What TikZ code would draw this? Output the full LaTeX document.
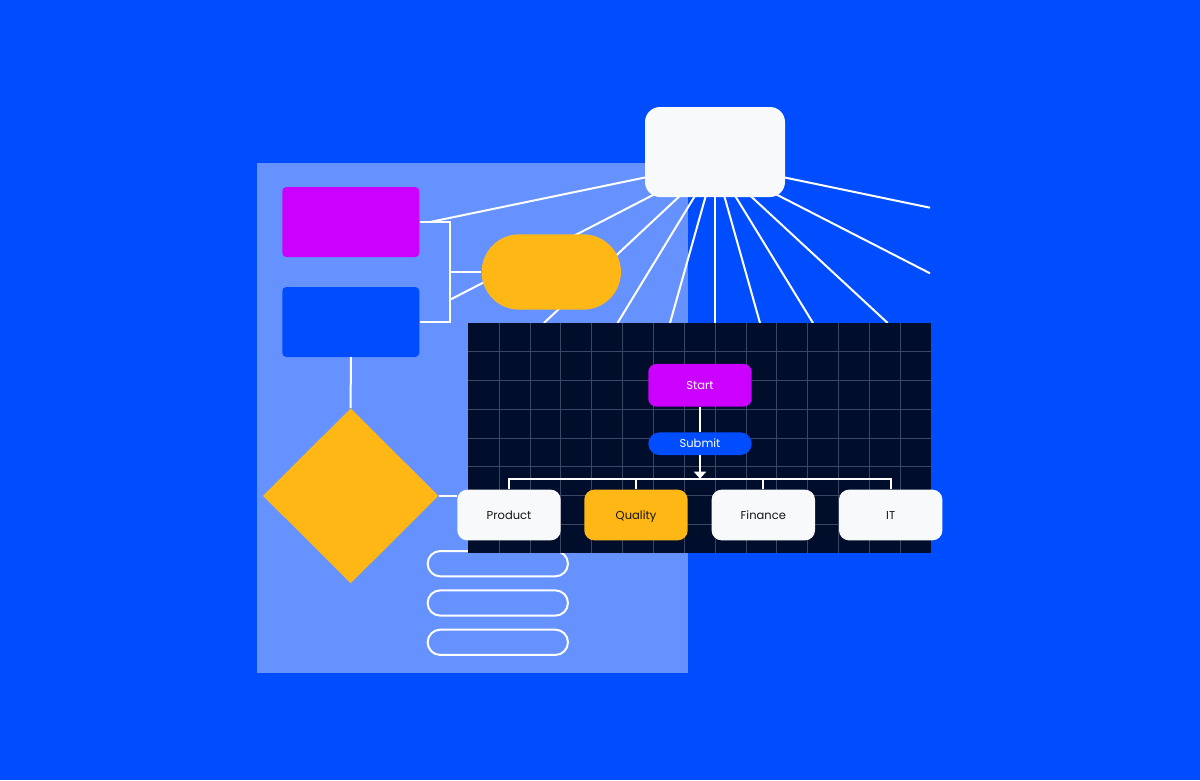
\documentclass[tikz,border=0pt]{standalone}
\usepackage{fontspec}
\setmainfont{Poppins}
\usetikzlibrary{arrows.meta,shapes.geometric}
\definecolor{bg}{HTML}{004DFF}
\definecolor{panel}{HTML}{6692FF}
\definecolor{violet}{HTML}{CC00FF}
\definecolor{amber}{HTML}{FFB716}
\definecolor{paper}{HTML}{F7F9FB}
\definecolor{navy}{HTML}{000D2B}
\definecolor{gridline}{HTML}{3A4662}
\definecolor{ink}{HTML}{141414}
\tikzset{
  wire/.style={draw=white, line width=2pt},
  ray/.style={draw=white, line width=2pt},
  label/.style={font=\fontsize{11.5}{14}\selectfont, text height=10pt, text depth=1.6pt},
  blockbox/.style={rectangle, inner sep=0pt, minimum width=137pt, minimum height=70pt, rounded corners=4pt},
  unitbox/.style={rectangle, inner sep=0pt, minimum width=103.4pt, minimum height=50.7pt, rounded corners=10pt, label, text=ink},
  outpill/.style={rectangle, draw=white, line width=2pt, inner sep=0pt, minimum width=140.3pt, minimum height=25.3pt, rounded corners=12.6pt},
}
\begin{document}
\begin{tikzpicture}[x=1pt,y=-1pt]
\fill[bg] (0,0) rectangle (1200,780);
\useasboundingbox (0,0) rectangle (1200,780);
\fill[panel] (257.3,162.7) rectangle (687.7,673.3);

% hub and ray ends
\coordinate (hub) at (715,163);
\coordinate (r1) at (430,222);
\coordinate (r2) at (450.5,299.5);
\coordinate (r3) at (543.9,323);
\coordinate (r4) at (617.5,323);
\coordinate (r5) at (670,323);
\coordinate (r6) at (715,323);
\coordinate (r7) at (760,323);
\coordinate (r8) at (813,323);
\coordinate (r9) at (887.7,323);
\coordinate (r10) at (930,273.3);
\coordinate (r11) at (930,207.7);
\foreach \r in {r1,r2,r3,r4,r5,r6,r7,r8,r9,r10,r11}
  \draw[ray] (hub) -- (\r);

% top white box
\node[rectangle, fill=paper, inner sep=0pt, minimum width=140pt, minimum height=90pt, rounded corners=15pt] (top) at (715,152) {};

% left blocks
\node[blockbox, fill=violet] (pbox) at (350.8,222) {};
\node[blockbox, fill=bg] (bbox) at (350.8,322) {};
\coordinate (bkt) at (450,222);
\coordinate (bkb) at (450,322);
\draw[wire] (pbox.east) -- (bkt) -- (bkb) -- (bbox.east);
\node[rectangle, fill=amber, inner sep=0pt, minimum width=139.3pt, minimum height=75.3pt, rounded corners=37.6pt] (pill) at (551.3,272) {};
\draw[wire] (pill.west) -- (pill.west -| bkt);

\node[diamond, fill=amber, inner sep=0pt, minimum width=175.6pt, minimum height=175pt] (dia) at (350.7,495.8) {};
\draw[wire] (bbox.south) -- (dia.north);

% outline pills
\node[outpill] (o1) at (497.8,563.7) {};
\node[outpill] (o2) at (497.8,603) {};
\node[outpill] (o3) at (497.8,642.3) {};

% dark grid
\node[rectangle, fill=navy, inner sep=0pt, minimum width=462.7pt, minimum height=230.6pt] (grid) at (699.65,438) {};
\foreach \i in {1,...,14}
  \draw[gridline, line width=1pt] (468.3+\i*30.86,322.7) -- (468.3+\i*30.86,553.3);
\foreach \j in {1,...,7}
  \draw[gridline, line width=1pt] (468.3,322.7+\j*28.83) -- (931,322.7+\j*28.83);

% flow inside grid
\node[rectangle, fill=violet, inner sep=0pt, minimum width=103.4pt, minimum height=42.7pt, rounded corners=8pt, text=white, label] (start) at (700,385.3) {Start};
\node[rectangle, fill=bg, inner sep=0pt, minimum width=103.4pt, minimum height=22.7pt, rounded corners=11.3pt, text=white, label] (submit) at (700,443.7) {Submit};
\draw[wire] (start.south) -- (submit.north);

\node[unitbox, fill=paper] (product) at (509,515) {Product};
\node[unitbox, fill=amber] (quality) at (636,515) {Quality};
\node[unitbox, fill=paper] (finance) at (763.3,515) {Finance};
\node[unitbox, fill=paper] (it) at (890.7,515) {IT};

\coordinate (bar) at (700,478.7);
\draw[wire] (product.north) -- (product.north |- bar) -- (it.north |- bar) -- (it.north);
\draw[wire] (quality.north) -- (quality.north |- bar);
\draw[wire] (finance.north) -- (finance.north |- bar);
\draw[wire, -{Triangle[width=12pt,length=7pt]}] (submit.south) -- (bar);

\draw[wire] (dia.east) -- (dia.east -| product.west);
\end{tikzpicture}
\end{document}
